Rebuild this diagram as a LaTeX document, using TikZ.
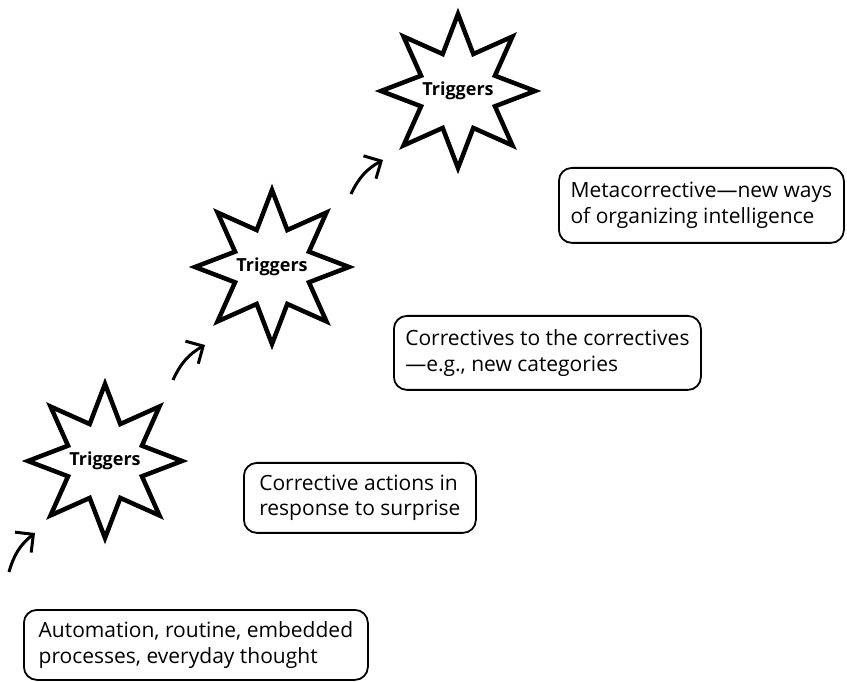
\documentclass[tikz,border=0pt]{standalone}
\usepackage{fontspec}
\setmainfont{Open Sans}
\usetikzlibrary{arrows.meta}
\tikzset{trigtext/.style={inner sep = 0pt, font = \fontsize{18}{22}\selectfont\bfseries}}
\tikzset{staredge/.style={line width = 4.5pt, line join = miter}}
\tikzset{notebox/.style={draw, line width = 1.8pt, rounded corners = 13pt, anchor = north west,
  align = left, inner xsep = 0pt, inner ysep = 0pt, font = \fontsize{21}{25.5}\selectfont}}
\tikzset{upcurve/.style={line width = 3pt, -{Straight Barb[length = 13pt, width = 26pt]}}}

\begin{document}
\begin{tikzpicture}[x = 1pt, y = 1pt]
	\useasboundingbox (0,0) rectangle (847,681);
	
	\node[trigtext] (star1) at (105,220) {Triggers};
	\node[trigtext] (star2) at (272,414) {Triggers};
	\node[trigtext] (star3) at (458,590) {Triggers};
	
	% eight-pointed outlines round the labels
	\foreach \s in {star1,star2,star3}
		\draw[staredge, shift = {(\s.center)}] (90:77)
			\foreach \k in {1,...,15} { -- ({90+22.5*\k}:{77-37*mod(\k,2)}) } -- cycle;
	
	\node[notebox, minimum width = 344pt, minimum height = 70pt] (routine) at (23,72)
		{Automation, routine, embedded\\processes, everyday thought};
	\node[notebox, minimum width = 232pt, minimum height = 70pt] (surprise) at (243,219)
		{Corrective actions in\\response to surprise};
	\node[notebox, minimum width = 307pt, minimum height = 74pt] (correctives) at (393,366)
		{Correctives to the correctives\\---e.g., new categories};
	\node[notebox, minimum width = 285pt, minimum height = 75pt] (meta) at (558,514)
		{Metacorrective---new ways\\of organizing intelligence};
	
	\coordinate (up1a) at (9,109);
	\coordinate (up1b) at (35,148);
	\coordinate (up2a) at (173,301);
	\coordinate (up2b) at (205,336);
	\coordinate (up3a) at (351,487);
	\coordinate (up3b) at (383,521);
	
	\draw[upcurve] (up1a) to[bend left = 18] (up1b);
	\draw[upcurve] (up2a) to[bend left = 18] (up2b);
	\draw[upcurve] (up3a) to[bend left = 18] (up3b);
\end{tikzpicture}
\end{document}
